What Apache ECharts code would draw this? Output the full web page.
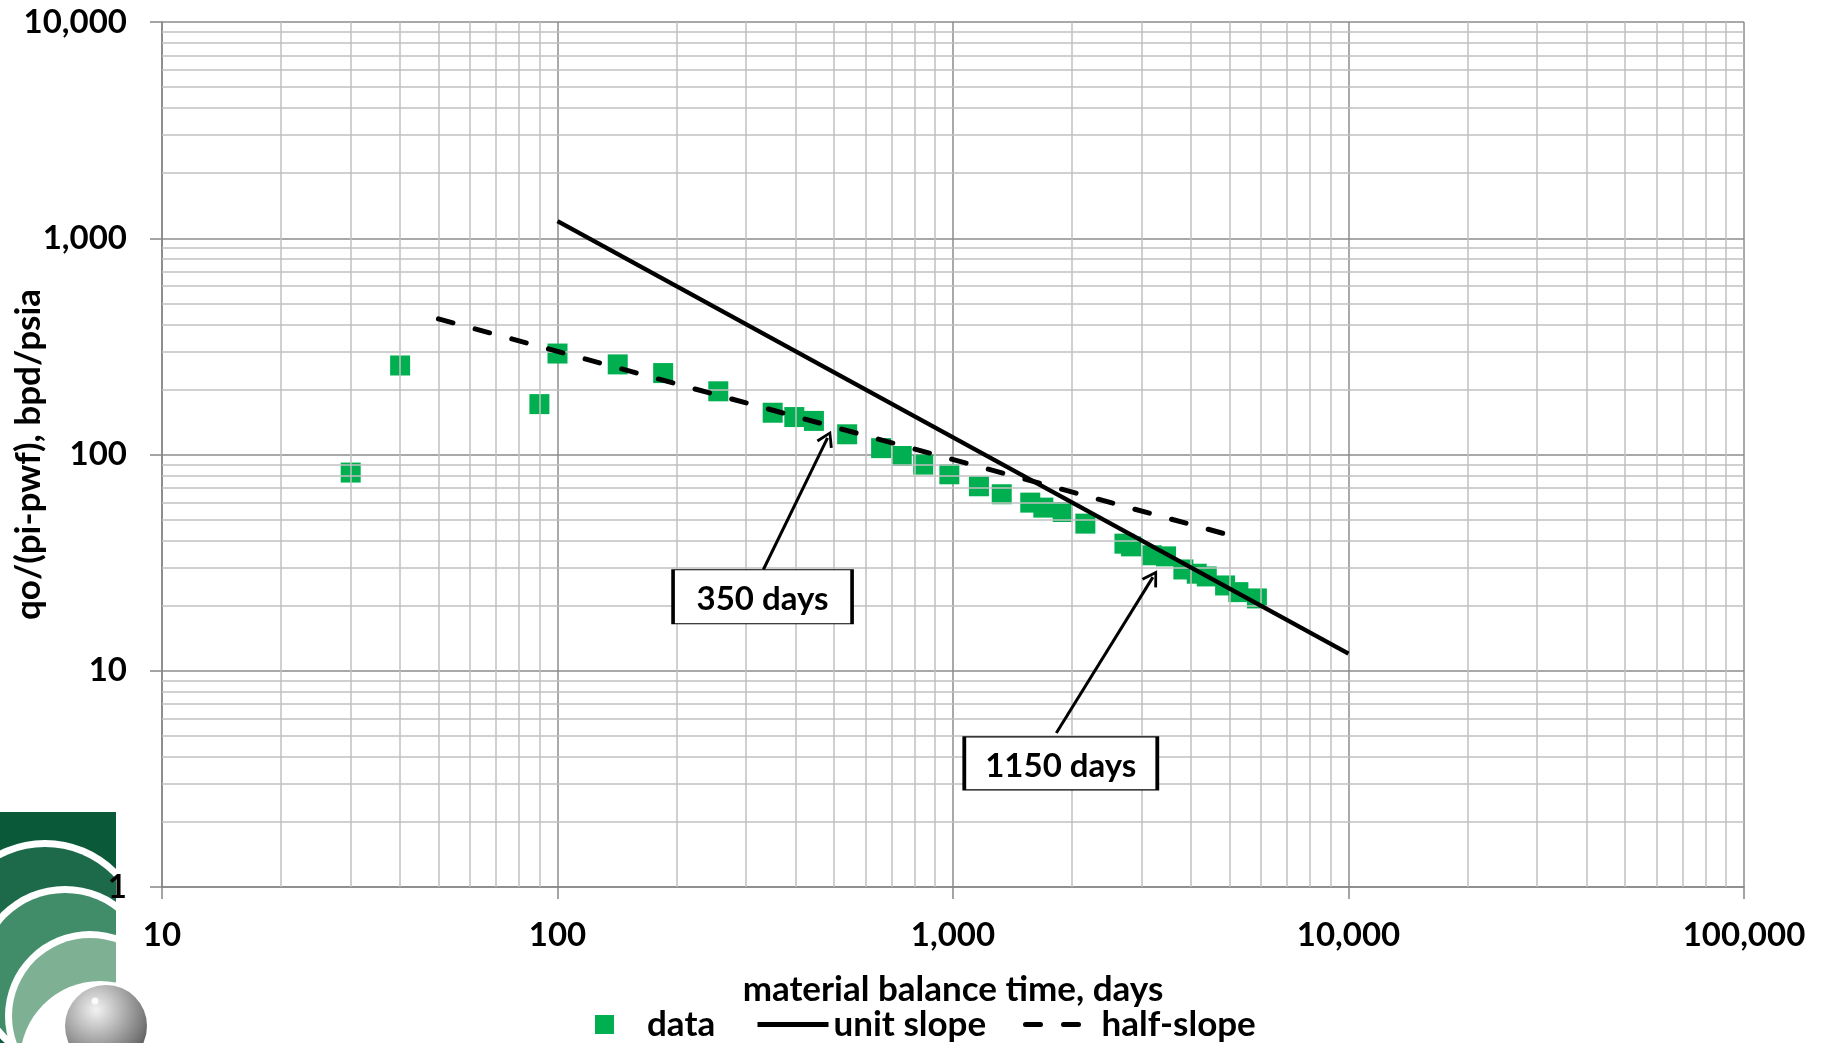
<!DOCTYPE html>
<html>
<head>
<meta charset="utf-8">
<title>Material balance time plot</title>
<script src="https://cdn.jsdelivr.net/npm/echarts@6/dist/echarts.min.js"></script>
<style>
  html, body { margin: 0; padding: 0; background: #ffffff; }
  #chart { width: 1827px; height: 1043px; }
</style>
</head>
<body>
<div id="chart"></div>
<script>
// Material balance time (days) and rate-normalised productivity qo/(pi-pwf) (bpd/psia)
const mbtDays = [30, 40, 90, 100, 142, 185, 255, 350, 397, 445, 540, 658, 742, 841, 979,
  1163, 1328, 1568, 1692, 1894, 2161, 2713, 2820, 3181, 3457, 3824, 4133, 4382, 4875, 5267, 5866];
const productivity = [82.5, 258, 171, 293, 261, 238, 196, 156, 149, 143, 124, 107, 98.4, 89.8, 81,
  71.3, 65.5, 59.9, 56.8, 54.2, 47.9, 38.7, 37.6, 34.2, 33.8, 29.4, 28.1, 27.3, 24.8, 23.1, 21.6];

// Reference slopes on the log-log plot
const unitSlopeX = [100, 10000];
const unitSlopeY = [1200, 12];
const halfSlopeX = [50, 5000];
const halfSlopeY = [424, 42.4];

// Axis decades
const xDecades = [10, 100, 1000, 10000, 100000];
const yDecades = [1, 10, 100, 1000, 10000];

// Callout texts
const calloutTexts = ['350 days', '1150 days'];

const FONT = { fontFamily: 'Lato', fontWeight: 'bold', color: '#000000' };
const GREEN = '#00b050';
const fmt = v => Math.round(v).toLocaleString('en-US');
const pairs = (xs, ys) => xs.map((x, i) => [x, ys[i]]);

// 2..9 multiples inside each decade, for the minor log grid
function minorValues(decades) {
  const out = [];
  for (let i = 0; i < decades.length - 1; i++) {
    for (let m = 2; m <= 9; m++) out.push(decades[i] * m);
  }
  return out;
}

// open arrow head, pointing up
const CHEVRON = 'path://M0,16 L10,0 L20,16 L17.2,17.6 L10,5.6 L2.8,17.6 Z';

// callout geometry in data coordinates: box centre, arrow tail, arrow end
const calloutGeom = [
  { box: [330, 22.0], size: [179, 54], tail: [331.6, 29.4], head: [481.7, 119.3] },
  { box: [1873, 3.73], size: [193, 53], tail: [1825, 5.15], head: [3202, 27.1] }
];

const chart = echarts.init(document.getElementById('chart'));

const axisGray = '#868686';
const DASH = [15, 23];

const option = {
  animation: false,
  backgroundColor: '#ffffff',
  grid: { left: 162, right: 83, top: 22, bottom: 156, containLabel: false, outerBoundsMode: 'none' },
  xAxis: {
    type: 'log', logBase: 10,
    min: xDecades[0], max: xDecades[xDecades.length - 1],
    name: 'material balance time, days',
    nameLocation: 'middle', nameGap: 85,
    nameTextStyle: Object.assign({ fontSize: 35 }, FONT),
    axisLine: { show: true, lineStyle: { color: axisGray, width: 1.5 } },
    axisTick: { show: true, inside: false, length: 12, lineStyle: { color: axisGray, width: 1.5 } },
    axisLabel: Object.assign({ fontSize: 33, margin: 32, formatter: fmt, showMinLabel: true, showMaxLabel: true }, FONT),
    splitLine: { show: true, lineStyle: { color: '#8c8c8c', width: 1.5 } }
  },
  yAxis: {
    type: 'log', logBase: 10,
    min: yDecades[0], max: yDecades[yDecades.length - 1],
    name: 'qo/(pi-pwf), bpd/psia',
    nameLocation: 'middle', nameGap: 116, nameRotate: 90, nameMoveOverlap: false,
    nameTextStyle: Object.assign({ fontSize: 35 }, FONT),
    axisLine: { show: true, lineStyle: { color: axisGray, width: 1.5 } },
    axisTick: { show: true, inside: false, length: 12, lineStyle: { color: axisGray, width: 1.5 } },
    axisLabel: Object.assign({ fontSize: 33, margin: 35, formatter: fmt, showMinLabel: true, showMaxLabel: true }, FONT),
    splitLine: { show: true, lineStyle: { color: '#8c8c8c', width: 1.5 } }
  },
  legend: [
    {
      data: ['data'], left: 595, top: 1007, padding: 0,
      itemWidth: 19, itemHeight: 19, icon: 'rect',
      itemStyle: { color: GREEN, opacity: 1 },
      textStyle: Object.assign({ fontSize: 35, padding: [0, 0, 0, 28] }, FONT)
    },
    {
      data: ['unit slope'], left: 755, top: 1007, padding: 0,
      itemWidth: 71, itemHeight: 19,
      itemStyle: { opacity: 0 },
      lineStyle: { color: '#000000', width: 5, type: 'solid' },
      textStyle: Object.assign({ fontSize: 35 }, FONT)
    },
    {
      data: ['half-slope'], left: 1023, top: 1007, padding: 0,
      itemWidth: 61, itemHeight: 19,
      itemStyle: { opacity: 0 },
      lineStyle: { color: '#000000', width: 5, type: DASH, cap: 'round' },
      textStyle: Object.assign({ fontSize: 35, padding: [0, 0, 0, 10] }, FONT)
    }
  ],
  series: [
    {
      // minor log grid
      name: 'grid', type: 'scatter', data: [], z: 1, silent: true,
      markLine: {
        silent: true, symbol: ['none', 'none'], label: { show: false },
        lineStyle: { color: '#c0c0c0', width: 1.5, type: 'solid' },
        emphasis: { disabled: true },
        data: minorValues(xDecades).map(v => ({ xAxis: v }))
          .concat(minorValues(yDecades).map(v => ({ yAxis: v })))
      }
    },
    {
      name: 'data', type: 'scatter', z: 4,
      symbol: 'rect', symbolSize: 20,
      itemStyle: { color: GREEN, opacity: 1 },
      data: pairs(mbtDays, productivity)
    },
    {
      name: 'unit slope', type: 'line', z: 5,
      symbol: 'none', showSymbol: false,
      itemStyle: { color: '#000000' },
      lineStyle: { color: '#000000', width: 4.5 },
      data: pairs(unitSlopeX, unitSlopeY)
    },
    {
      name: 'half-slope', type: 'line', z: 5,
      symbol: 'none', showSymbol: false,
      itemStyle: { color: '#000000' },
      lineStyle: { color: '#000000', width: 5, type: DASH, cap: 'round' },
      data: pairs(halfSlopeX, halfSlopeY)
    },
    {
      // callout arrows and boxes
      name: 'callouts', type: 'scatter', data: [], z: 6, silent: true,
      markLine: {
        silent: true, symbol: ['none', CHEVRON], symbolSize: [18, 16],
        label: { show: false },
        lineStyle: { color: '#000000', width: 3, type: 'solid' },
        emphasis: { disabled: true },
        data: calloutGeom.map(g => [{ coord: g.tail }, { coord: g.head }])
      },
      markPoint: {
        silent: true,
        data: calloutGeom.map((g, i) => ({
          coord: g.box,
          symbol: 'rect',
          symbolSize: g.size,
          itemStyle: { color: '#ffffff', borderColor: '#000000', borderWidth: 2 },
          label: Object.assign({
            show: true, position: 'inside', offset: [0, 3],
            fontSize: 33, formatter: calloutTexts[i]
          }, FONT)
        }))
      }
    }
  ],
  graphic: [
    // company mark in the lower-left corner
    { type: 'rect', z: -20, silent: true, shape: { x: 0, y: 812, width: 116, height: 231 }, style: { fill: '#0a5a39' } },
    { type: 'circle', z: -19, silent: true, shape: { cx: 45, cy: 942, r: 102 }, style: { fill: '#ffffff' } },
    { type: 'circle', z: -18, silent: true, shape: { cx: 45, cy: 942, r: 95 }, style: { fill: '#1d6a4a' } },
    { type: 'circle', z: -17, silent: true, shape: { cx: 65, cy: 976, r: 90 }, style: { fill: '#ffffff' } },
    { type: 'circle', z: -16, silent: true, shape: { cx: 65, cy: 976, r: 83 }, style: { fill: '#418c69' } },
    { type: 'circle', z: -15, silent: true, shape: { cx: 90, cy: 1016, r: 85 }, style: { fill: '#ffffff' } },
    { type: 'circle', z: -14, silent: true, shape: { cx: 90, cy: 1016, r: 78 }, style: { fill: '#7eb193' } },
    { type: 'circle', z: -13, silent: true, shape: { cx: 100, cy: 1061, r: 80 }, style: { fill: '#ffffff' } },
    { type: 'rect', z: -12, silent: true, shape: { x: 116, y: 800, width: 140, height: 243 }, style: { fill: '#ffffff' } },
    {
      type: 'circle', z: -11, silent: true, shape: { cx: 106, cy: 1026, r: 41 },
      style: {
        fill: new echarts.graphic.RadialGradient(0.38, 0.3, 0.78, [
          { offset: 0, color: '#f2f2f2' },
          { offset: 0.3, color: '#c4c4c4' },
          { offset: 0.75, color: '#7c7c7c' },
          { offset: 1, color: '#505050' }
        ])
      }
    },
    { type: 'circle', z: -10, silent: true, shape: { cx: 95, cy: 1001, r: 3.5 }, style: { fill: '#ffffff', opacity: 0.85 } }
  ]
};

chart.setOption(option);
</script>
</body>
</html>
